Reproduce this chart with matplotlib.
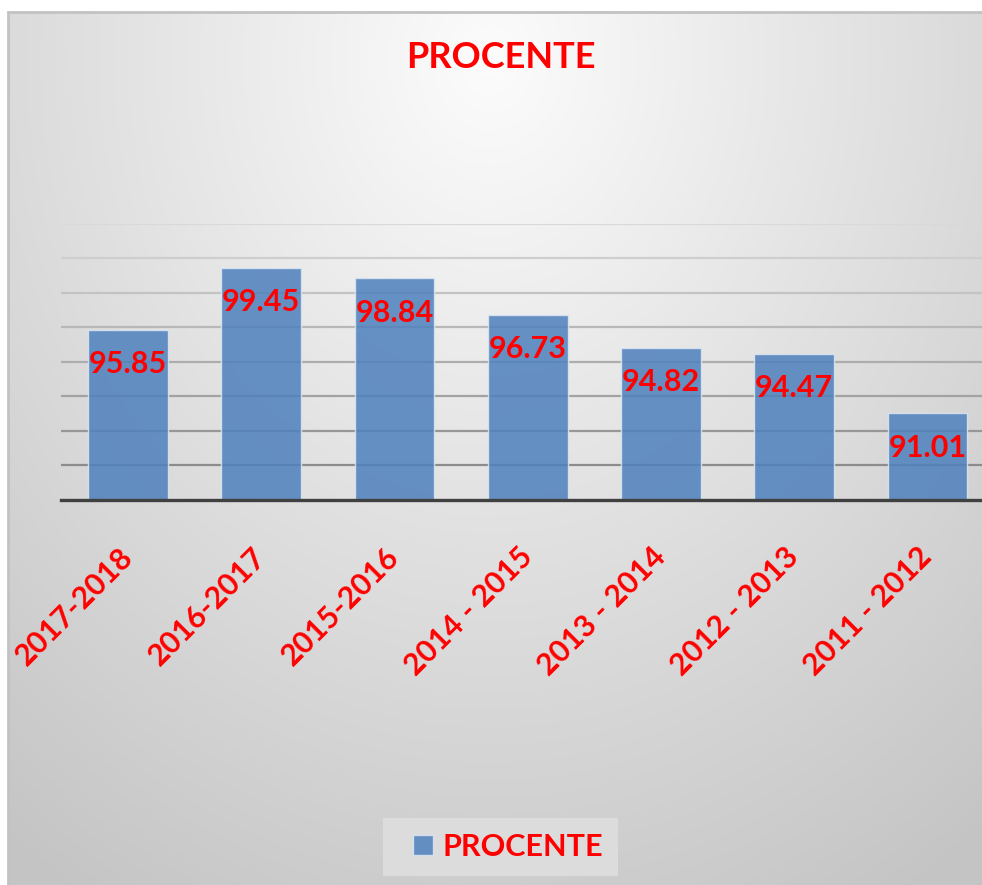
import numpy as np
import matplotlib
matplotlib.use("Agg")
import matplotlib.pyplot as plt
from matplotlib.patches import Rectangle

# ---- data ----
categories = ['2017-2018', '2016-2017', '2015-2016', '2014 - 2015',
              '2013 - 2014', '2012 - 2013', '2011 - 2012']
values = [95.85, 99.45, 98.84, 96.73, 94.82, 94.47, 91.01]
series_name = 'PROCENTE'
title_text = 'PROCENTE'
y_min, y_max, y_step = 86, 102, 2

FONT = ['Lato', 'DejaVu Sans']
W, H = 982, 885
fig = plt.figure(figsize=(W / 100, H / 100), dpi=100, facecolor='white')

# ---- chart-area gradient background ----
x0, y0 = 8, 12
bg = fig.add_axes([x0 / W, 0, 1 - x0 / W, 1 - y0 / H], zorder=-5)
yy, xx = np.mgrid[y0:H, x0:W].astype(float)
d = np.sqrt(((xx - 490.0) * 1.15) ** 2 + ((yy - 60.0) * 0.95) ** 2)
g = np.clip(252 - 0.060 * d, 196, 252) / 255.0
rgb = np.dstack([g, g, g])
bg.imshow(rgb, aspect='auto', interpolation='bilinear')
bg.set_axis_off()
fig.add_artist(Rectangle((x0 / W, -0.01), 1.1, 1 - y0 / H + 0.01, transform=fig.transFigure,
                         fill=False, edgecolor='#c2c2c2', linewidth=2.0, zorder=-4))

# ---- plot axes ----
ax = fig.add_axes([61.4 / W, 1 - 499.5 / H, 932.75 / W, 275.5 / H])
ax.patch.set_alpha(0)
x = np.arange(len(values))
ax.set_xlim(-0.5, len(values) - 0.5)
ax.set_ylim(y_min, y_max)

grid_levels = np.arange(y_min + y_step, y_max + 0.01, y_step)
for i, gv in enumerate(grid_levels):
    t = i / (len(grid_levels) - 1)
    c = 0.55 + 0.30 * t
    ax.axhline(gv, color=(c, c, c), linewidth=1.6, zorder=0.5)

bars = ax.bar(x, values, width=0.6, color='#4F81BD', alpha=0.86,
              edgecolor='#dce6f2', linewidth=1.0, zorder=2, label=series_name)

for xi, v in zip(x, values):
    ax.annotate(f'{v:.2f}', xy=(xi, v), xytext=(0, -24.8), textcoords='offset points',
                ha='center', va='center', color='red', fontsize=22,
                fontweight='bold', family=FONT, zorder=4)

for s in ['top', 'left', 'right']:
    ax.spines[s].set_visible(False)
ax.spines['bottom'].set_color('#404040')
ax.spines['bottom'].set_linewidth(2.4)
ax.spines['bottom'].set_zorder(3)

ax.set_yticks([])
ax.set_xticks(x)
ax.set_xticklabels(categories, rotation=45, ha='right', va='center',
                   rotation_mode='anchor', color='red', fontsize=22,
                   fontweight='bold', family=FONT)
ax.tick_params(axis='x', length=0, pad=38)
for lbl in ax.get_xticklabels():
    lbl.set_x(lbl.get_position()[0])

# ---- title ----
fig.text(501 / W, 1 - 58 / H, title_text, ha='center', va='center', color='red',
         fontsize=26, fontweight='bold', family=FONT)

# ---- legend ----
fig.add_artist(Rectangle((383 / W, 1 - 876 / H), 235 / W, 58 / H, transform=fig.transFigure,
                         facecolor='#dcdcdc', edgecolor='none', zorder=1))
leg = fig.legend(handles=[bars], labels=[series_name], loc='center',
                 bbox_to_anchor=(508 / W, 1 - 847 / H), frameon=False,
                 handlelength=0.65, handleheight=0.65, handletextpad=0.3,
                 prop={'family': FONT, 'weight': 'bold', 'size': 22})
for t in leg.get_texts():
    t.set_color('red')
leg.set_zorder(2)

fig.savefig('out.png', dpi=100, facecolor='white')
